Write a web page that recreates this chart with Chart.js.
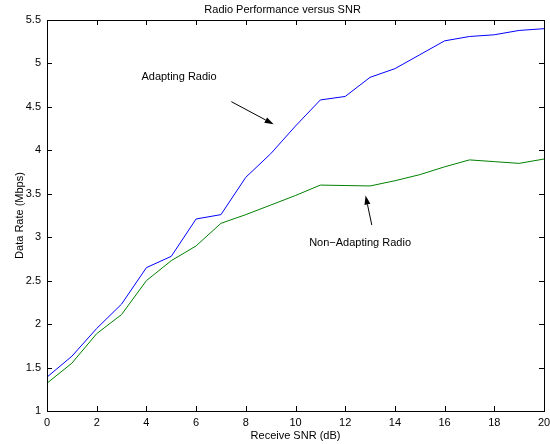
<!DOCTYPE html>
<html>
<head>
<meta charset="utf-8">
<script src="https://cdn.jsdelivr.net/npm/chart.js@4.4.1/dist/chart.umd.min.js"></script>
<style>
  html, body { margin: 0; padding: 0; background: #fff; }
  #wrap { width: 550px; height: 444px; }
</style>
</head>
<body>
<div id="wrap"><canvas id="radioChart" width="550" height="444"></canvas></div>
<script>
// values
const snr = [0, 1, 2, 3, 4, 5, 6, 7, 8, 9, 10, 11, 12, 13, 14, 15, 16, 17, 18, 19, 20];
const adapting = [1.39, 1.63, 1.95, 2.23, 2.65, 2.78, 3.21, 3.26, 3.69, 3.96, 4.28, 4.58, 4.62, 4.84, 4.94, 5.10, 5.26, 5.31, 5.33, 5.38, 5.40];
const nonAdapting = [1.32, 1.55, 1.89, 2.11, 2.50, 2.73, 2.90, 3.16, 3.26, 3.37, 3.48, 3.60, 3.595, 3.59, 3.65, 3.72, 3.81, 3.89, 3.87, 3.85, 3.90];
const xTicks = [0, 2, 4, 6, 8, 10, 12, 14, 16, 18, 20];
const yTicks = [1, 1.5, 2, 2.5, 3, 3.5, 4, 4.5, 5, 5.5];

const chartTitle = "Radio Performance versus SNR";
const xLabel = "Receive SNR (dB)";
const yLabel = "Data Rate (Mbps)";

// annotations: text anchor and arrow (tail -> head) in data units
const notes = [
    { text: "Adapting Radio", at: [3.8, 4.84], from: [7.42, 4.56], to: [9.12, 4.30] },
    { text: "Non\u2212Adapting Radio", at: [10.55, 2.93], from: [13.07, 3.14], to: [12.82, 3.48] }
];

Chart.defaults.font.family = "'Liberation Sans', Arial, Helvetica, sans-serif";
Chart.defaults.font.size = 11;
Chart.defaults.color = "#000";

function toPoints(ys) {
    return snr.map((x, i) => ({ x: x, y: ys[i] }));
}

const matlabAxes = {
    id: "matlabAxes",
    afterDraw(chart) {
        const ctx = chart.ctx;
        const area = chart.chartArea;
        const xs = chart.scales.x;
        const ys = chart.scales.y;
        const tick = 5;

        ctx.save();
        ctx.strokeStyle = "#000";
        ctx.lineWidth = 1;
        ctx.beginPath();
        xTicks.forEach(v => {
            const px = Math.round(xs.getPixelForValue(v)) + 0.5;
            ctx.moveTo(px, area.bottom);
            ctx.lineTo(px, area.bottom - tick);
            ctx.moveTo(px, area.top);
            ctx.lineTo(px, area.top + tick);
        });
        yTicks.forEach(v => {
            const py = Math.round(ys.getPixelForValue(v)) + 0.5;
            ctx.moveTo(area.left, py);
            ctx.lineTo(area.left + tick, py);
            ctx.moveTo(area.right, py);
            ctx.lineTo(area.right - tick, py);
        });
        ctx.stroke();
        ctx.strokeRect(Math.round(area.left) + 0.5, Math.round(area.top) + 0.5,
            Math.round(area.right - area.left), Math.round(area.bottom - area.top));

        // title
        ctx.fillStyle = "#000";
        ctx.font = "11px 'Liberation Sans', Arial, sans-serif";
        ctx.textAlign = "center";
        ctx.textBaseline = "middle";
        ctx.fillText(chartTitle, area.left + (area.right - area.left) * 0.474, 10);

        // annotations
        notes.forEach(n => {
            ctx.textAlign = "left";
            ctx.fillText(n.text, xs.getPixelForValue(n.at[0]), ys.getPixelForValue(n.at[1]));

            const x1 = xs.getPixelForValue(n.from[0]), y1 = ys.getPixelForValue(n.from[1]);
            const x2 = xs.getPixelForValue(n.to[0]), y2 = ys.getPixelForValue(n.to[1]);
            const ang = Math.atan2(y2 - y1, x2 - x1);
            const len = 9, half = 3;
            const bx = x2 - len * Math.cos(ang), by = y2 - len * Math.sin(ang);
            ctx.beginPath();
            ctx.moveTo(x1, y1);
            ctx.lineTo(bx, by);
            ctx.stroke();
            ctx.beginPath();
            ctx.moveTo(x2, y2);
            ctx.lineTo(bx + half * Math.sin(ang), by - half * Math.cos(ang));
            ctx.lineTo(bx - half * Math.sin(ang), by + half * Math.cos(ang));
            ctx.closePath();
            ctx.fill();
        });
        ctx.restore();
    }
};

const ctx = document.getElementById("radioChart").getContext("2d");
new Chart(ctx, {
    type: "line",
    data: {
        datasets: [
            {
                label: "Adapting Radio",
                data: toPoints(adapting),
                borderColor: "#0000ff",
                borderWidth: 1,
                pointRadius: 0,
                tension: 0,
                fill: false
            },
            {
                label: "Non-Adapting Radio",
                data: toPoints(nonAdapting),
                borderColor: "#008000",
                borderWidth: 1,
                pointRadius: 0,
                tension: 0,
                fill: false
            }
        ]
    },
    options: {
        responsive: false,
        animation: false,
        layout: { padding: { top: 20, right: 6, left: 0, bottom: 0 } },
        plugins: {
            legend: { display: false },
            title: { display: false },
            tooltip: { enabled: false }
        },
        scales: {
            x: {
                type: "linear",
                min: 0,
                max: 20,
                afterBuildTicks: s => { s.ticks = xTicks.map(v => ({ value: v })); },
                afterFit: s => { s.height = 33; s.paddingRight = 0; s.paddingLeft = 0; },
                grid: { display: false, drawTicks: false },
                border: { display: false },
                ticks: { padding: 5, maxRotation: 0, autoSkip: false, color: "#000", callback: v => String(v) },
                title: { display: true, text: xLabel, color: "#000", padding: { top: 0, bottom: 1 } }
            },
            y: {
                type: "linear",
                min: 1,
                max: 5.5,
                afterBuildTicks: s => { s.ticks = yTicks.map(v => ({ value: v })); },
                afterFit: s => { s.width = 47; s.paddingTop = 0; s.paddingBottom = 0; },
                grid: { display: false, drawTicks: false },
                border: { display: false },
                ticks: { padding: 6, autoSkip: false, color: "#000", callback: v => String(v) },
                title: { display: true, text: yLabel, color: "#000", padding: { top: 13, bottom: 0 } }
            }
        }
    },
    plugins: [matlabAxes]
});
</script>
</body>
</html>
